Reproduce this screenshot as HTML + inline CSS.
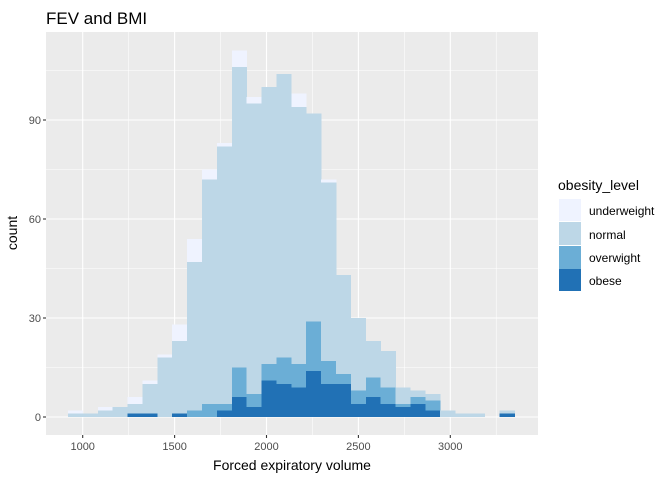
<!DOCTYPE html>
<html><head><meta charset="utf-8"><style>
body{margin:0;background:#fff;}
svg text{font-family:"Liberation Sans",Arial,sans-serif;}
</style></head><body>
<svg id="chart" width="672" height="480" xmlns="http://www.w3.org/2000/svg">
<text x="46" y="24" font-size="17" fill="#000">FEV and BMI</text>
<rect x="46" y="32" width="492" height="403" fill="#EBEBEB"/>
<g id="grid"></g>
<g id="bars" shape-rendering="crispEdges"></g>
<g id="axes"></g>
<text x="292" y="470" font-size="14" text-anchor="middle" fill="#000">Forced expiratory volume</text>
<text transform="translate(17,233) rotate(-90)" font-size="14" text-anchor="middle" fill="#000">count</text>
<g>
<text x="558" y="190" font-size="14" fill="#000">obesity_level</text>
<rect x="559" y="199" width="22" height="22" fill="#EFF3FF"/>
<text x="589" y="215" font-size="12" fill="#000">underweight</text>
<rect x="559" y="222" width="22" height="23" fill="#BDD7E7"/>
<text x="589" y="239" font-size="12" fill="#000">normal</text>
<rect x="559" y="246" width="22" height="23" fill="#6BAED6"/>
<text x="589" y="262" font-size="12" fill="#000">overwight</text>
<rect x="559" y="269" width="22" height="22" fill="#2171B5"/>
<text x="589" y="285" font-size="12" fill="#000">obese</text>
</g>
</svg>
<script>
const binStart = 920;
const binWidth = 81;
const obese =       [0,0,0,0,1,1,0,1,0,0,2,6,3,11,10,9,14,10,10,4,6,4,3,4,2,0,0,0,0,1];
const overweight =  [0,0,0,0,0,0,0,0,2,4,2,9,4,5,8,7,15,7,3,4,6,5,1,2,3,0,0,0,0,0];
const normal =      [1,1,2,3,3,9,18,22,45,68,78,91,88,84,86,78,63,54,30,22,11,11,5,2,2,2,1,1,0,1];
const underweight = [1,0,1,0,2,1,1,5,7,3,1,5,2,0,0,4,0,1,0,0,0,0,0,0,0,0,0,0,0,0];
const xTicks = [1000,1500,2000,2500,3000];
const yTicks = [0,30,60,90];
const seriesNames = ["obese","overweight","normal","underweight"];
const seriesColors = ["#2171B5","#6BAED6","#BDD7E7","#EFF3FF"];

const NS="http://www.w3.org/2000/svg";
const X0=46,X1=538,Y0=32,Y1=435;
function xs(v){return 82.7+(v-1000)*0.1838;}
function ys(v){return 417-v*3.3;}
function mk(tag,attrs,parent){const e=document.createElementNS(NS,tag);for(const k in attrs)e.setAttribute(k,attrs[k]);parent.appendChild(e);return e;}
const grid=document.getElementById('grid'),bars=document.getElementById('bars'),axes=document.getElementById('axes');
for(let i=0;i<xTicks.length+1;i++){const v=xTicks[0]-250+i*500;const x=xs(v);if(x>X0&&x<X1){const l=mk('line',{x1:x,x2:x,y1:Y0,y2:Y1,stroke:'#fff','stroke-width':0.55},grid);}}
for(let i=0;i<yTicks.length;i++){const v=yTicks[i]+15;const y=ys(v);if(y>Y0){const l=mk('line',{x1:X0,x2:X1,y1:y,y2:y,stroke:'#fff','stroke-width':0.55},grid);}}
xTicks.forEach(v=>{const x=xs(v);
 const l=mk('line',{x1:x,x2:x,y1:Y0,y2:Y1,stroke:'#fff','stroke-width':1.1},grid);
 
 
 const t=mk('line',{x1:x,x2:x,y1:Y1,y2:Y1+3,stroke:'#333','stroke-width':1.1},axes);
 
 
 const tx=mk('text',{x:x,y:Y1+15,'font-size':11,'text-anchor':'middle',fill:'#4D4D4D'},axes);tx.textContent=v;
 
 
});
yTicks.forEach(v=>{const y=ys(v);
 const l=mk('line',{x1:X0,x2:X1,y1:y,y2:y,stroke:'#fff','stroke-width':1.1},grid);
 
 
 const t=mk('line',{x1:X0-3,x2:X0,y1:y,y2:y,stroke:'#333','stroke-width':1.1},axes);
 
 
 const tx=mk('text',{x:X0-5,y:y+4,'font-size':11,'text-anchor':'end',fill:'#4D4D4D'},axes);tx.textContent=v;
 
 
});
const series=[obese,overweight,normal,underweight];
for(let i=0;i<obese.length;i++){
 let base=0;
 const xa=xs(binStart+i*binWidth),xb=xs(binStart+(i+1)*binWidth);
 series.forEach((s,k)=>{const v=s[i];if(v>0){
  const r=mk('rect',{x:xa,y:ys(base+v),width:xb-xa+0.3,height:ys(base)-ys(base+v),fill:seriesColors[k]},bars);
  
  
 }base+=v;});
}
</script>
</body></html>
